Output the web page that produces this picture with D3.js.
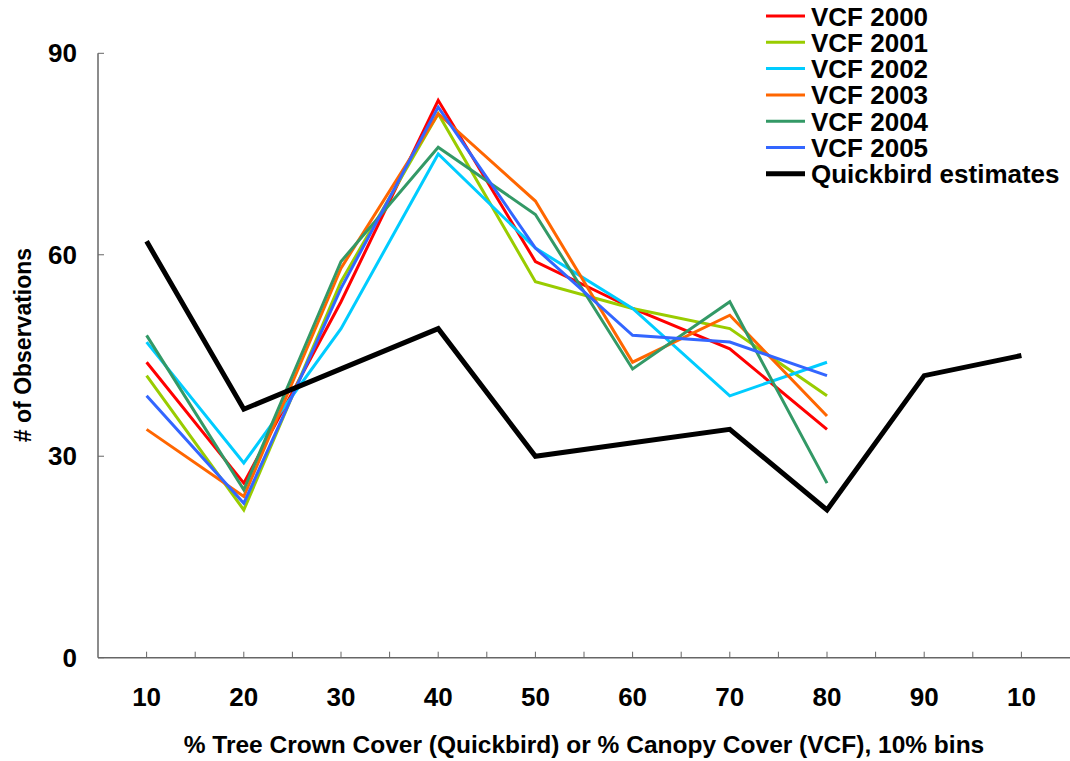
<!DOCTYPE html>
<html><head><meta charset="utf-8">
<script src="https://cdn.jsdelivr.net/npm/d3@7"></script>
<style>html,body{margin:0;padding:0;background:#fff;}svg{display:block;font-family:"Liberation Sans",Arial,sans-serif;}</style>
</head><body>
<svg id="c" width="1070" height="761"></svg>
<script>
const categories = ["10","20","30","40","50","60","70","80","90","10"];
const yTicks = [0,30,60,90];
const seriesNames = ["VCF 2000","VCF 2001","VCF 2002","VCF 2003","VCF 2004","VCF 2005","Quickbird estimates"];
const vcf2000 = [44,26,53,83,59,52,46,34];
const vcf2001 = [42,22,56,81,56,52,49,39];
const vcf2002 = [47,29,49,75,61,52,39,44];
const vcf2003 = [34,24,58,81,68,44,51,36];
const vcf2004 = [48,25,59,76,66,43,53,26];
const vcf2005 = [39,23,55,82,61,48,47,42];
const quickbird = [62,37,43,49,30,32,34,22,42,45];
const colors = ["#ff0000","#99cc00","#00ccff","#ff6600","#339966","#3366ff","#000000"];
const widths = [3,3,3,3,3,3,5];
const allSeries = [vcf2000,vcf2001,vcf2002,vcf2003,vcf2004,vcf2005,quickbird];

const svg = d3.select("#c");
const L = 98, R = 1070, T = 53.3, B = 657.7;
const idx = d3.range(categories.length);
const band = d3.scaleBand().domain(idx).range([L,R]);
const x = d3.scalePoint().domain(idx).range([L,R]).padding(0.5);
const y = d3.scaleLinear().domain([0,90]).range([B,T]);
const axisColor = "#666";

// x axis
const gx = svg.append("g");
gx.append("line").attr("x1",L).attr("x2",R).attr("y1",B).attr("y2",B).attr("stroke",axisColor).attr("stroke-width",1.5);
const tickPos = [];
idx.forEach(i=>{ if(i>0) tickPos.push(band(i)); tickPos.push(x(i)); });
gx.selectAll("line.t").data(tickPos).join("line").attr("class","t")
  .attr("x1",d=>d).attr("x2",d=>d).attr("y1",B).attr("y2",B-6).attr("stroke",axisColor).attr("stroke-width",1);
gx.selectAll("text").data(idx).join("text")
  .attr("x",d=>x(d)).attr("y",706).attr("text-anchor","middle")
  .attr("font-size",26).attr("font-weight","bold").text(d=>categories[d]);

// y axis
const gy = svg.append("g");
gy.append("line").attr("x1",L).attr("x2",L).attr("y1",T).attr("y2",B).attr("stroke",axisColor).attr("stroke-width",1.5);
gy.selectAll("line.t").data(yTicks).join("line").attr("class","t")
  .attr("x1",L).attr("x2",L+6).attr("y1",d=>y(d)).attr("y2",d=>y(d)).attr("stroke",axisColor).attr("stroke-width",1);
gy.selectAll("text").data(yTicks).join("text")
  .attr("x",77).attr("y",d=>y(d)+9).attr("text-anchor","end")
  .attr("font-size",26).attr("font-weight","bold").text(d=>d);

// titles
svg.append("text").attr("x",584).attr("y",753).attr("text-anchor","middle")
  .attr("font-size",24.5).attr("font-weight","bold")
  .text("% Tree Crown Cover (Quickbird) or % Canopy Cover (VCF), 10% bins");
svg.append("text").attr("transform","translate(31,345) rotate(-90)").attr("text-anchor","middle")
  .attr("font-size",23).attr("font-weight","bold").text("# of Observations");

// lines
const line = d3.line().x((d,i)=>x(i)).y(d=>y(d));
allSeries.forEach((s,k)=>{
  svg.append("path").datum(s).attr("d",line).attr("fill","none")
    .attr("stroke",colors[k]).attr("stroke-width",widths[k]).attr("stroke-linejoin","miter");
});

// legend
const lg = svg.append("g");
seriesNames.forEach((n,k)=>{
  const cy = 16 + k*26.3;
  lg.append("line").attr("x1",766).attr("x2",805).attr("y1",cy).attr("y2",cy)
    .attr("stroke",colors[k]).attr("stroke-width",widths[k]);
  lg.append("text").attr("x",811).attr("y",cy+9.5).attr("font-size",26).attr("font-weight","bold").text(n);
});
</script>
</body></html>
